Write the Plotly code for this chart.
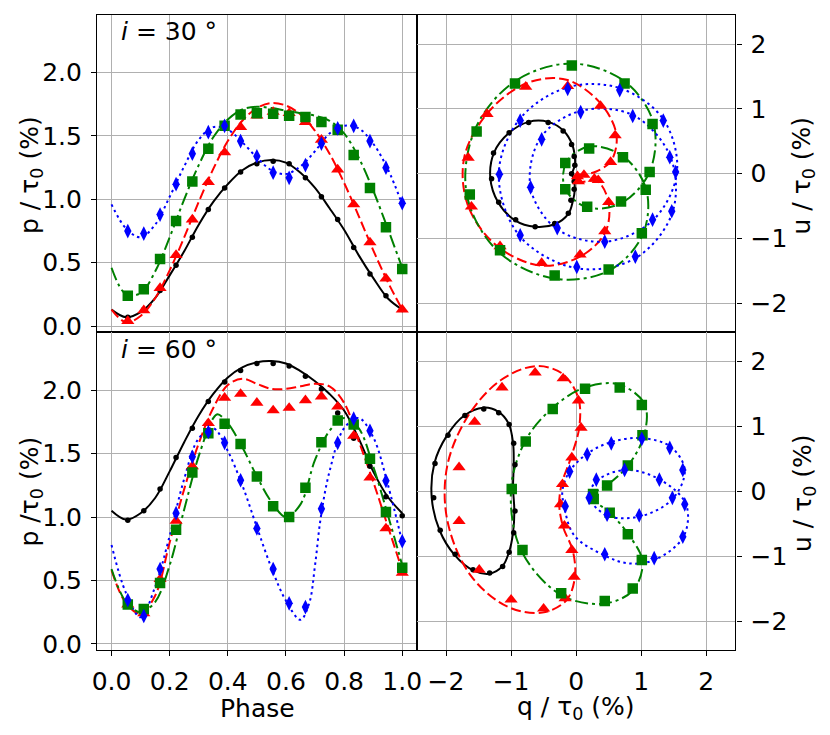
import plotly.graph_objects as go

# ---- data ------------------------------------------------------------------
# observed phases (markers) and model phases (curves)
phase_pts = [0.056, 0.111, 0.167, 0.222, 0.278, 0.333, 0.389, 0.444, 0.5,
             0.556, 0.611, 0.667, 0.722, 0.778, 0.833, 0.889, 0.944, 1.0]
phase_curve = [0.0, 0.05, 0.1, 0.15, 0.2, 0.25, 0.3, 0.35, 0.4, 0.45, 0.5,
               0.55, 0.6, 0.65, 0.7, 0.75, 0.8, 0.85, 0.9, 0.95, 1.0]

# i = 30 deg, p / tau0 (%)
p30_black_pts = [0.07, 0.13, 0.28, 0.48, 0.70, 0.92, 1.09, 1.215, 1.28, 1.30,
                 1.28, 1.17, 1.02, 0.84, 0.62, 0.41, 0.24, 0.13]
p30_red_pts = [0.04, 0.125, 0.30, 0.56, 0.84, 1.135, 1.37, 1.57, 1.66, 1.69,
               1.68, 1.61, 1.47, 1.235, 0.96, 0.66, 0.375, 0.13]
p30_green_pts = [0.24, 0.29, 0.53, 0.83, 1.14, 1.40, 1.58, 1.67, 1.68, 1.675,
                 1.66, 1.65, 1.61, 1.55, 1.35, 1.09, 0.78, 0.45]
p30_blue_pts = [0.75, 0.73, 0.88, 1.12, 1.36, 1.53, 1.58, 1.46, 1.34, 1.21,
                1.17, 1.27, 1.44, 1.56, 1.58, 1.46, 1.25, 0.97]

p30_black_curve = [0.13, 0.07, 0.11, 0.22, 0.40, 0.59, 0.80, 0.98, 1.12, 1.23, 1.29,
                   1.31, 1.29, 1.21, 1.09, 0.93, 0.76, 0.56, 0.38, 0.22, 0.13]
p30_red_curve = [0.13, 0.03, 0.08, 0.22, 0.44, 0.70, 0.98, 1.24, 1.46, 1.62, 1.72,
                 1.76, 1.74, 1.67, 1.54, 1.36, 1.13, 0.87, 0.60, 0.35, 0.13]
p30_green_curve = [0.46, 0.25, 0.26, 0.43, 0.70, 1.00, 1.27, 1.49, 1.63, 1.71, 1.73,
                   1.72, 1.70, 1.68, 1.66, 1.62, 1.52, 1.33, 1.07, 0.77, 0.46]
p30_blue_curve = [0.96, 0.77, 0.70, 0.80, 1.02, 1.26, 1.47, 1.57, 1.55, 1.45, 1.33,
                  1.23, 1.20, 1.26, 1.38, 1.52, 1.58, 1.56, 1.44, 1.24, 0.96]

# i = 60 deg, p / tau0 (%)
p60_black_pts = [0.974, 1.05, 1.22, 1.47, 1.70, 1.91, 2.065, 2.155, 2.21, 2.21,
                 2.19, 2.11, 2.01, 1.82, 1.62, 1.40, 1.16, 1.01]
p60_red_pts = [0.31, 0.24, 0.51, 0.97, 1.40, 1.74, 1.94, 1.97, 1.90, 1.84,
               1.86, 1.92, 1.95, 1.87, 1.64, 1.31, 0.91, 0.56]
p60_green_pts = [0.31, 0.275, 0.48, 0.90, 1.35, 1.66, 1.735, 1.575, 1.32, 1.085,
                 1.00, 1.23, 1.59, 1.76, 1.73, 1.46, 1.04, 0.60]
p60_blue_pts = [0.345, 0.22, 0.59, 1.03, 1.475, 1.67, 1.585, 1.29, 0.91, 0.59,
                0.32, 0.29, 1.065, 1.585, 1.775, 1.68, 1.285, 0.81]

p60_black_curve = [1.05, 0.98, 1.03, 1.15, 1.36, 1.59, 1.80, 1.97, 2.10, 2.18, 2.22,
                   2.23, 2.21, 2.15, 2.07, 1.97, 1.84, 1.62, 1.36, 1.16, 1.03]
p60_red_curve = [0.58, 0.32, 0.24, 0.38, 0.80, 1.22, 1.58, 1.86, 2.04, 2.09, 2.05,
                 2.01, 2.01, 2.03, 2.05, 2.03, 1.90, 1.60, 1.28, 0.93, 0.58]
phase_green60 = [0.0, 0.05, 0.1, 0.15, 0.2, 0.25, 0.3, 0.35, 0.365, 0.4, 0.45, 0.5,
                 0.55, 0.6, 0.65, 0.7, 0.75, 0.8, 0.85, 0.9, 0.95, 1.0]
p60_green_curve = [0.59, 0.33, 0.25, 0.33, 0.62, 1.06, 1.48, 1.78, 1.81, 1.74, 1.55, 1.32,
                   1.12, 1.00, 1.10, 1.45, 1.68, 1.78, 1.70, 1.40, 1.02, 0.62]
phase_blue60 = [0.0, 0.05, 0.1, 0.15, 0.2, 0.25, 0.3, 0.35, 0.4, 0.45, 0.5, 0.55,
                0.6, 0.65, 0.68, 0.7, 0.72, 0.75, 0.8, 0.85, 0.9, 0.95, 1.0]
p60_blue_curve = [0.78, 0.40, 0.21, 0.45, 0.85, 1.30, 1.62, 1.70, 1.52, 1.25, 0.92, 0.60,
                  0.34, 0.19, 0.32, 0.62, 1.00, 1.36, 1.70, 1.78, 1.63, 1.26, 0.80]

# i = 30 deg, q / tau0 and u / tau0 (%)
q30_black_pts = [-0.07, -0.02, -0.03, -0.07, -0.20, -0.43, -0.73, -1.03, -1.27,
                 -1.30, -1.19, -0.93, -0.63, -0.33, -0.12, -0.08, -0.03, -0.03]
u30_black_pts = [0.00, 0.13, 0.265, 0.45, 0.66, 0.79, 0.79, 0.63, 0.32,
                 -0.08, -0.44, -0.71, -0.82, -0.77, -0.61, -0.41, -0.24, -0.12]
q30_red_pts = [0.02, 0.12, 0.28, 0.53, 0.60, 0.375, -0.13, -0.775, -1.37,
               -1.66, -1.61, -1.17, -0.53, 0.06, 0.44, 0.50, 0.34, 0.035]
u30_red_pts = [-0.04, -0.02, -0.08, 0.18, 0.59, 1.046, 1.35, 1.34, 0.92,
               0.245, -0.51, -1.12, -1.38, -1.25, -0.89, -0.44, -0.10, -0.12]
q30_green_pts = [-0.167, -0.167, 0.17, 0.69, 1.13, 1.175, 0.745, -0.066, -0.94,
                 -1.53, -1.635, -1.17, -0.33, 0.50, 1.01, 1.07, 0.72, 0.20]
u30_green_pts = [0.163, -0.24, -0.51, -0.43, 0.026, 0.765, 1.39, 1.67, 1.39,
                 0.65, -0.32, -1.18, -1.57, -1.48, -0.92, -0.25, 0.255, 0.39]
q30_blue_pts = [-0.53, -0.70, -0.29, 0.44, 1.175, 1.53, 1.34, 0.67, -0.13,
                -0.86, -1.18, -0.86, 0.01, 0.91, 1.47, 1.44, 0.87, 0.07]
u30_blue_pts = [0.53, -0.21, -0.84, -1.05, -0.71, 0.026, 0.82, 1.29, 1.31,
                0.82, -0.01, -0.95, -1.44, -1.28, -0.58, 0.255, 0.89, 0.95]

q30_black_curve = [-0.03, -0.06, -0.02, -0.02, -0.06, -0.19, -0.43, -0.73, -1.03, -1.26,
                   -1.32, -1.20, -0.94, -0.63, -0.33, -0.12, -0.05, -0.02, -0.03]
u30_black_curve = [-0.12, 0.00, 0.13, 0.26, 0.45, 0.66, 0.80, 0.80, 0.63, 0.33,
                   -0.06, -0.44, -0.72, -0.82, -0.78, -0.62, -0.42, -0.24, -0.12]
q30_red_curve = [0.03, 0.02, 0.13, 0.30, 0.54, 0.62, 0.38, -0.15, -0.75, -1.35,
                 -1.72, -1.66, -1.20, -0.52, 0.08, 0.45, 0.50, 0.33, 0.03]
u30_red_curve = [-0.12, -0.03, -0.01, 0.03, 0.20, 0.60, 1.08, 1.45, 1.40, 0.95,
                 0.25, -0.50, -1.13, -1.42, -1.27, -0.90, -0.45, -0.12, -0.12]
q30_green_curve = [0.20, -0.15, -0.17, 0.17, 0.70, 1.13, 1.19, 0.75, -0.07, -0.95,
                   -1.56, -1.68, -1.20, -0.33, 0.50, 1.02, 1.08, 0.72, 0.20]
u30_green_curve = [0.42, 0.18, -0.23, -0.52, -0.45, 0.03, 0.78, 1.42, 1.70, 1.42,
                   0.67, -0.33, -1.20, -1.62, -1.50, -0.95, -0.25, 0.27, 0.42]
q30_blue_curve = [0.07, -0.55, -0.70, -0.30, 0.45, 1.18, 1.55, 1.34, 0.67, -0.14,
                  -0.87, -1.19, -0.87, 0.01, 0.92, 1.48, 1.45, 0.88, 0.07]
u30_blue_curve = [0.97, 0.55, -0.22, -0.85, -1.05, -0.72, 0.02, 0.84, 1.32, 1.33,
                  0.84, -0.01, -0.96, -1.46, -1.30, -0.60, 0.26, 0.90, 0.97]

# i = 60 deg, q / tau0 and u / tau0 (%)
q60_black_pts = [-0.96, -0.94, -0.96, -1.03, -1.19, -1.42, -1.71, -1.97, -2.17,
                 -2.19, -2.09, -1.86, -1.585, -1.33, -1.13, -1.03, -0.96, -0.94]
u60_black_pts = [0.06, 0.41, 0.74, 1.03, 1.21, 1.27, 1.17, 0.865, 0.43,
                 -0.10, -0.60, -0.97, -1.21, -1.26, -1.16, -0.94, -0.64, -0.305]
q60_red_pts = [-0.24, -0.21, -0.066, 0.076, 0.035, -0.20, -0.63, -1.14, -1.56,
               -1.80, -1.80, -1.49, -1.00, -0.50, -0.17, -0.03, -0.066, -0.18]
u60_red_pts = [-0.20, 0.11, 0.52, 0.98, 1.40, 1.74, 1.83, 1.60, 1.07,
               0.37, -0.46, -1.21, -1.67, -1.81, -1.65, -1.32, -0.905, -0.53]
q60_green_pts = [0.27, 0.26, 0.476, 0.795, 1.02, 1.01, 0.67, 0.137, -0.36,
                 -0.775, -0.99, -0.825, -0.23, 0.44, 0.87, 1.01, 0.795, 0.516]
u60_green_pts = [-0.12, -0.04, 0.09, 0.40, 0.865, 1.33, 1.60, 1.58, 1.27,
                 0.77, 0.036, -0.906, -1.57, -1.69, -1.50, -1.06, -0.66, -0.33]
q60_blue_pts = [0.31, 0.20, 0.476, 0.97, 1.48, 1.64, 1.44, 1.01, 0.54,
                0.17, -0.10, -0.167, 0.44, 1.20, 1.64, 1.67, 1.28, 0.745]
u60_blue_pts = [0.18, -0.10, -0.36, -0.37, -0.10, 0.33, 0.67, 0.81, 0.74,
                0.57, 0.305, -0.23, -0.97, -1.03, -0.70, -0.20, 0.18, 0.33]

q60_black_curve = [-0.95, -0.97, -0.96, -0.97, -1.04, -1.20, -1.43, -1.72, -1.98, -2.18,
                   -2.22, -2.10, -1.87, -1.58, -1.33, -1.13, -1.03, -0.97, -0.95]
u60_black_curve = [-0.30, 0.06, 0.41, 0.75, 1.05, 1.23, 1.29, 1.17, 0.87, 0.43,
                   -0.10, -0.60, -0.98, -1.22, -1.27, -1.15, -0.93, -0.64, -0.30]
q60_red_curve = [-0.20, -0.26, -0.22, -0.08, 0.05, 0.03, -0.22, -0.62, -1.15, -1.65,
                 -1.98, -1.98, -1.62, -1.05, -0.52, -0.15, -0.02, -0.05, -0.20]
u60_red_curve = [-0.55, -0.20, 0.12, 0.52, 1.00, 1.45, 1.82, 1.93, 1.72, 1.18,
                 0.40, -0.45, -1.30, -1.78, -1.87, -1.68, -1.33, -0.92, -0.55]
q60_green_curve = [0.52, 0.27, 0.26, 0.47, 0.80, 1.05, 1.05, 0.65, 0.13, -0.37,
                   -0.78, -1.00, -0.85, -0.23, 0.44, 0.88, 1.02, 0.80, 0.52]
u60_green_curve = [-0.33, -0.13, -0.04, 0.09, 0.40, 0.88, 1.35, 1.65, 1.60, 1.28,
                   0.78, 0.04, -0.90, -1.60, -1.73, -1.52, -1.08, -0.66, -0.33]
q60_blue_curve = [0.76, 0.33, 0.20, 0.47, 0.97, 1.48, 1.67, 1.45, 1.01, 0.54, 0.17,
                  -0.10, -0.21, -0.19, -0.03, 0.44, 0.80, 1.20, 1.65, 1.69, 1.29, 0.76]
u60_blue_curve = [0.33, 0.17, -0.08, -0.37, -0.39, -0.12, 0.33, 0.69, 0.82, 0.76, 0.58,
                  0.31, 0.02, -0.20, -0.68, -0.99, -1.11, -1.06, -0.70, -0.20, 0.18, 0.33]

p_ticks = [0.0, 0.5, 1.0, 1.5, 2.0]
p_ticktext = ["0.0", "0.5", "1.0", "1.5", "2.0"]
phase_ticks = [0.0, 0.2, 0.4, 0.6, 0.8, 1.0]
phase_ticktext = ["0.0", "0.2", "0.4", "0.6", "0.8", "1.0"]
qu_ticks = [-2, -1, 0, 1, 2]
qu_ticktext = ["\u22122", "\u22121", "0", "1", "2"]

# ---- styles ----------------------------------------------------------------
FONT = "DejaVu Sans"
FS = 25
W, H = 830, 735
OFF = 8  # page body margin shifts the plot by this many pixels

styles = {
    "black": dict(color="#000000", dash="solid", symbol="circle", size=5.5),
    "red": dict(color="#ff0000", dash="10px,4px", symbol="triangle-up", size=11.5),
    "green": dict(color="#008000", dash="13px,4px,3px,4px", symbol="square", size=10.5),
    "blue": dict(color="#0000ff", dash="2.5px,3.5px", symbol="diamond-tall", size=10.5),
}

panels = [
    ("x", "y", {
        "black": (phase_curve, p30_black_curve, phase_pts, p30_black_pts),
        "red": (phase_curve, p30_red_curve, phase_pts, p30_red_pts),
        "green": (phase_curve, p30_green_curve, phase_pts, p30_green_pts),
        "blue": (phase_curve, p30_blue_curve, phase_pts, p30_blue_pts),
    }),
    ("x2", "y2", {
        "black": (q30_black_curve, u30_black_curve, q30_black_pts, u30_black_pts),
        "red": (q30_red_curve, u30_red_curve, q30_red_pts, u30_red_pts),
        "green": (q30_green_curve, u30_green_curve, q30_green_pts, u30_green_pts),
        "blue": (q30_blue_curve, u30_blue_curve, q30_blue_pts, u30_blue_pts),
    }),
    ("x3", "y3", {
        "black": (phase_curve, p60_black_curve, phase_pts, p60_black_pts),
        "red": (phase_curve, p60_red_curve, phase_pts, p60_red_pts),
        "green": (phase_green60, p60_green_curve, phase_pts, p60_green_pts),
        "blue": (phase_blue60, p60_blue_curve, phase_pts, p60_blue_pts),
    }),
    ("x4", "y4", {
        "black": (q60_black_curve, u60_black_curve, q60_black_pts, u60_black_pts),
        "red": (q60_red_curve, u60_red_curve, q60_red_pts, u60_red_pts),
        "green": (q60_green_curve, u60_green_curve, q60_green_pts, u60_green_pts),
        "blue": (q60_blue_curve, u60_blue_curve, q60_blue_pts, u60_blue_pts),
    }),
]

fig = go.Figure()
order = ["black", "red", "green", "blue"]
for xa, ya, series in panels:
    # model curves first, observed points on top
    for name in order:
        xc, yc, _, _ = series[name]
        st = styles[name]
        fig.add_trace(go.Scatter(
            x=xc, y=yc, mode="lines", xaxis=xa, yaxis=ya,
            line=dict(color=st["color"], width=2, dash=st["dash"], shape="spline"),
            showlegend=False, hoverinfo="skip"))
    for name in order:
        _, _, xp, yp = series[name]
        st = styles[name]
        fig.add_trace(go.Scatter(
            x=xp, y=yp, mode="markers", xaxis=xa, yaxis=ya,
            marker=dict(color=st["color"], symbol=st["symbol"], size=st["size"],
                        line=dict(width=0)),
            showlegend=False))


# ---- axes ------------------------------------------------------------------
def px_x(v):
    return (v - OFF) / W


def px_y(v):
    return 1 - (v - OFF) / H


x_left = [px_x(93), px_x(416.7)]
x_right = [px_x(416.7), px_x(739.3)]
y_top = [px_y(336), px_y(15)]
y_bot = [px_y(657.3), px_y(336)]


def base_axis(**kw):
    d = dict(showline=True, linecolor="black", linewidth=1.1, mirror=True,
             showgrid=True, gridcolor="#b0b0b0", gridwidth=1, zeroline=False,
             ticks="outside", ticklen=5, tickwidth=1.1, tickcolor="black",
             ticklabelstandoff=4,
             tickfont=dict(family=FONT, size=FS, color="black"))
    d.update(kw)
    return d


fig.update_layout(
    xaxis=base_axis(domain=x_left, anchor="y", range=[-0.05, 1.05],
                    tickvals=phase_ticks, showticklabels=False, ticks=""),
    yaxis=base_axis(domain=y_top, anchor="x", range=[-0.05, 2.455],
                    tickvals=p_ticks, ticktext=p_ticktext),
    xaxis2=base_axis(domain=x_right, anchor="y2", range=[-2.45, 2.45],
                     tickvals=qu_ticks, showticklabels=False, ticks=""),
    yaxis2=base_axis(domain=y_top, anchor="x2", side="right", range=[-2.45, 2.45],
                     tickvals=qu_ticks, ticktext=qu_ticktext),
    xaxis3=base_axis(domain=x_left, anchor="y3", range=[-0.05, 1.05],
                     tickvals=phase_ticks, ticktext=phase_ticktext),
    yaxis3=base_axis(domain=y_bot, anchor="x3", range=[-0.05, 2.455],
                     tickvals=p_ticks, ticktext=p_ticktext),
    xaxis4=base_axis(domain=x_right, anchor="y4", range=[-2.45, 2.45],
                     tickvals=qu_ticks, ticktext=qu_ticktext),
    yaxis4=base_axis(domain=y_bot, anchor="x4", side="right", range=[-2.45, 2.45],
                     tickvals=qu_ticks, ticktext=qu_ticktext),
)


def label(text, x, y, angle=0):
    return dict(text=text, x=px_x(x), y=px_y(y), xref="paper", yref="paper",
                xanchor="center", yanchor="middle", textangle=angle, showarrow=False,
                font=dict(family=FONT, size=FS, color="black"))


annotations = [
    label("<i>i</i> = 30 °", 166, 32),
    label("<i>i</i> = 60 °", 166, 353),
    label("p / τ<sub>0</sub> (%)", 26, 177, -90),
    label("p /τ<sub>0</sub> (%)", 26, 497, -90),
    label("u / τ<sub>0</sub> (%)", 808, 177, -90),
    label("u / τ<sub>0</sub> (%)", 808, 498, -90),
    label("Phase", 255, 716),
    label("q / τ<sub>0</sub> (%)", 578, 716),
]

fig.update_layout(
    width=W, height=H, autosize=False,
    margin=dict(l=0, r=0, t=0, b=0),
    paper_bgcolor="white", plot_bgcolor="white",
    font=dict(family=FONT, size=FS, color="black"),
    annotations=annotations,
)

fig.write_html("out.html")
